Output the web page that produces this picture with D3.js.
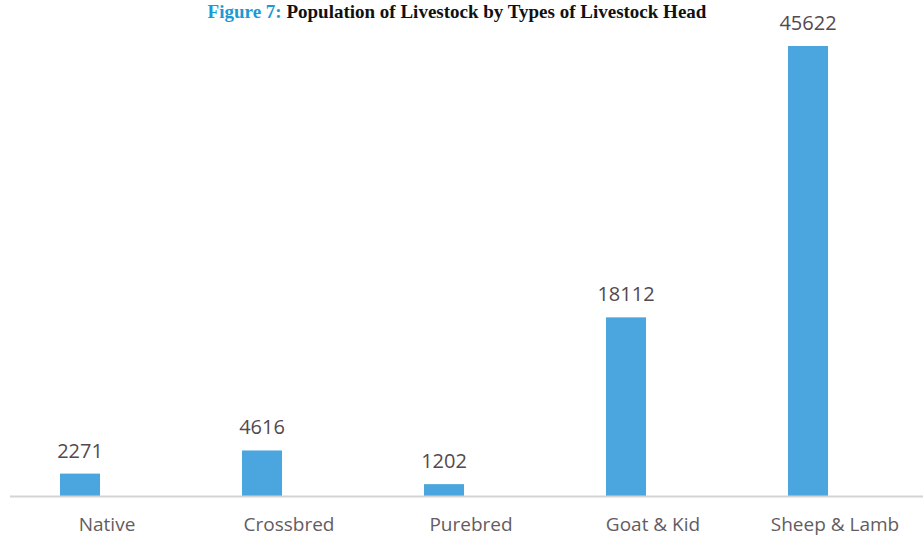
<!DOCTYPE html>
<html><head><meta charset="utf-8">
<script src="https://cdn.jsdelivr.net/npm/d3@7"></script>
<style>body{margin:0;background:#fff}svg{display:block}</style>
</head><body>
<svg id="chart" width="923" height="537"></svg>
<script>
const categories = ["Native", "Crossbred", "Purebred", "Goat & Kid", "Sheep & Lamb"];
const values = [2271, 4616, 1202, 18112, 45622];
const titlePrefix = "Figure 7:";
const titleText = " Population of Livestock by Types of Livestock Head";

const svg = d3.select("#chart");
const W = 923, H = 537;
const baseY = 496;

const x = d3.scaleBand().domain(categories).range([-11, 899]).paddingInner(0.78).paddingOuter(0.39);
const y = d3.scaleLinear().domain([0, 45622]).range([baseY, 46]);

// title
const t = svg.append("text").attr("x", 457).attr("y", 18).attr("text-anchor", "middle")
  .attr("font-family", "Liberation Serif, serif").attr("font-weight", "bold").attr("font-size", 19);
t.append("tspan").attr("fill", "#1a9ad6").text(titlePrefix);
t.append("tspan").attr("fill", "#111").text(titleText);

// bars
svg.selectAll("rect.bar").data(values).join("rect").attr("class", "bar")
  .attr("x", (d, i) => x(categories[i]))
  .attr("width", x.bandwidth())
  .attr("y", d => y(d))
  .attr("height", d => baseY - y(d))
  .attr("fill", "#4ba5de");

// baseline axis
svg.append("line").attr("x1", 10).attr("x2", W).attr("y1", baseY + 0.5).attr("y2", baseY + 0.5)
  .attr("stroke", "#d4d4d4").attr("stroke-width", 2);

// value labels
svg.selectAll("text.val").data(values).join("text").attr("class", "val")
  .attr("x", (d, i) => x(categories[i]) + x.bandwidth() / 2)
  .attr("y", d => y(d) - 16)
  .attr("text-anchor", "middle")
  .attr("font-family", "Open Sans, sans-serif").attr("font-size", 20)
  .attr("fill", "#53494f")
  .text(d => d);

// category labels
const xAxis = d3.axisBottom(x).tickSize(0).tickPadding(0);
const ax = svg.append("g").attr("transform", `translate(0,${baseY})`).call(xAxis);
ax.select(".domain").remove();
ax.selectAll("text").attr("dy", null).attr("y", 35).attr("x", 27)
  .attr("font-family", "Open Sans, sans-serif").attr("font-size", 19).attr("fill", "#645c61");
</script>
</body></html>
